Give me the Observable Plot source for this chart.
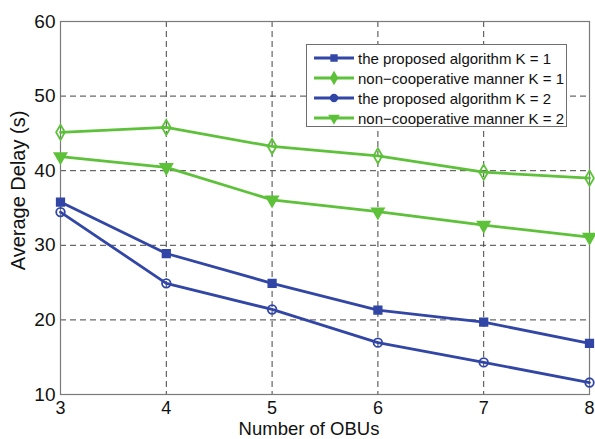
<!DOCTYPE html>
<html>
<head>
<meta charset="utf-8">
<script src="https://cdn.jsdelivr.net/npm/d3@7"></script>
<script src="https://cdn.jsdelivr.net/npm/@observablehq/plot@0.6"></script>
<style>
  html, body { margin: 0; padding: 0; background: #fff; }
  #wrap { position: relative; width: 595px; height: 439px; font-family: "Liberation Sans", Arial, sans-serif; }
  #legend { position: absolute; left: 306px; top: 44px; width: 261px; height: 83px; border: 1px solid #6e6e6e; background: #fff; box-sizing: border-box; }
  .row { position: absolute; left: 0; height: 20px; display: flex; align-items: center; }
  .row span { font-size: 15px; color: #111; margin-left: 4px; white-space: nowrap; }
  .row svg { margin-left: 7px; }
</style>
</head>
<body>
<div id="wrap"></div>
<script>
const obus = [3, 4, 5, 6, 7, 8];
const proposedK1 = [35.8, 28.9, 24.9, 21.3, 19.7, 16.85];
const nonCoopK1 = [45.15, 45.8, 43.25, 42.0, 39.8, 39.0];
const proposedK2 = [34.45, 24.9, 21.4, 16.95, 14.3, 11.6];
const nonCoopK2 = [41.9, 40.45, 36.1, 34.5, 32.7, 31.1];
const yTicks = [10, 20, 30, 40, 50, 60];
const xTicks = [3, 4, 5, 6, 7, 8];

const blue = "#3246a6";
const green = "#5dc13a";

const triangleDown = {
  draw(context, size) {
    const s = Math.sqrt(size / 0.6);
    const h = s * Math.sqrt(3) / 2;
    context.moveTo(0, h * 2 / 3);
    context.lineTo(s / 2, -h / 3);
    context.lineTo(-s / 2, -h / 3);
    context.closePath();
  }
};

const series = [
  {name: "the proposed algorithm K = 1", values: proposedK1, color: blue, symbol: "square", fill: true, r: 4.2},
  {name: "non\u2212cooperative manner K = 1", values: nonCoopK1, color: green, symbol: "diamond", fill: false, r: 4.6},
  {name: "the proposed algorithm K = 2", values: proposedK2, color: blue, symbol: "circle", fill: false, r: 4.3},
  {name: "non\u2212cooperative manner K = 2", values: nonCoopK2, color: green, symbol: triangleDown, fill: true, r: 5.2}
];

const data = series.flatMap(s => obus.map((x, i) => ({series: s.name, x, y: s.values[i]})));

const marks = [
  Plot.gridX([4, 5, 6, 7], {stroke: "#444", strokeOpacity: 1, strokeWidth: 1, strokeDasharray: "6,4"}),
  Plot.gridY([20, 30, 40, 50], {stroke: "#444", strokeOpacity: 1, strokeWidth: 1, strokeDasharray: "6,4"}),
  Plot.frame({stroke: "#7a7a7a", strokeWidth: 1.2}),
  Plot.axisX(xTicks, {tickSize: 0, tickPadding: 7, fontSize: 18, label: null, fill: "#111"}),
  Plot.axisY(yTicks, {tickSize: 0, tickPadding: 5, label: null, fill: "#111"}),
  Plot.text(["Number of OBUs"], {frameAnchor: "bottom", lineAnchor: "middle", dy: 35, dx: -16, fontSize: 18.5, fill: "#111"}),
  Plot.text(["Average Delay (s)"], {frameAnchor: "left", textAnchor: "middle", lineAnchor: "middle", rotate: -90, dx: -41.5, dy: -17.5, fontSize: 20, fill: "#111"})
];

for (const s of series) {
  const d = data.filter(r => r.series === s.name);
  marks.push(Plot.line(d, {x: "x", y: "y", stroke: s.color, strokeWidth: 2.8}));
  marks.push(Plot.dot(d, {
    x: "x", y: "y", symbol: () => s.symbol, r: s.r,
    stroke: s.color, strokeWidth: 1.8,
    fill: s.fill ? s.color : "none"
  }));
}

const chart = Plot.plot({
  width: 595,
  height: 439,
  marginLeft: 60,
  marginRight: 6,
  marginTop: 21,
  marginBottom: 45,
  style: {fontFamily: "'Liberation Sans', Arial, sans-serif", fontSize: "19px", background: "#fff", overflow: "visible"},
  x: {domain: [3, 8]},
  y: {domain: [10, 60]},
  marks
});

const wrap = document.getElementById("wrap");
wrap.appendChild(chart);

// Legend
const legend = document.createElement("div");
legend.id = "legend";
const symPath = (sym, r) => {
  const type = typeof sym === "string"
    ? {square: d3.symbolSquare, diamond: d3.symbolDiamond, circle: d3.symbolCircle}[sym]
    : sym;
  const area = sym === "circle" ? Math.PI * r * r : (sym === "square" ? (2 * r) ** 2 * 0.75 : Math.PI * r * r * 0.9);
  return d3.symbol(type, area)();
};
series.forEach((s, i) => {
  const row = document.createElement("div");
  row.className = "row";
  row.style.top = (3 + i * 20) + "px";
  const svg = d3.create("svg").attr("width", 40).attr("height", 20);
  svg.append("line").attr("x1", 0).attr("x2", 40).attr("y1", 10).attr("y2", 10)
    .attr("stroke", s.color).attr("stroke-width", 2.8);
  svg.append("path").attr("d", symPath(s.symbol, s.r * 0.8)).attr("transform", "translate(20,10)")
    .attr("fill", s.color).attr("stroke", s.color).attr("stroke-width", 1.5);
  row.appendChild(svg.node());
  const span = document.createElement("span");
  span.textContent = s.name;
  row.appendChild(span);
  legend.appendChild(row);
});
wrap.appendChild(legend);
</script>
</body>
</html>
